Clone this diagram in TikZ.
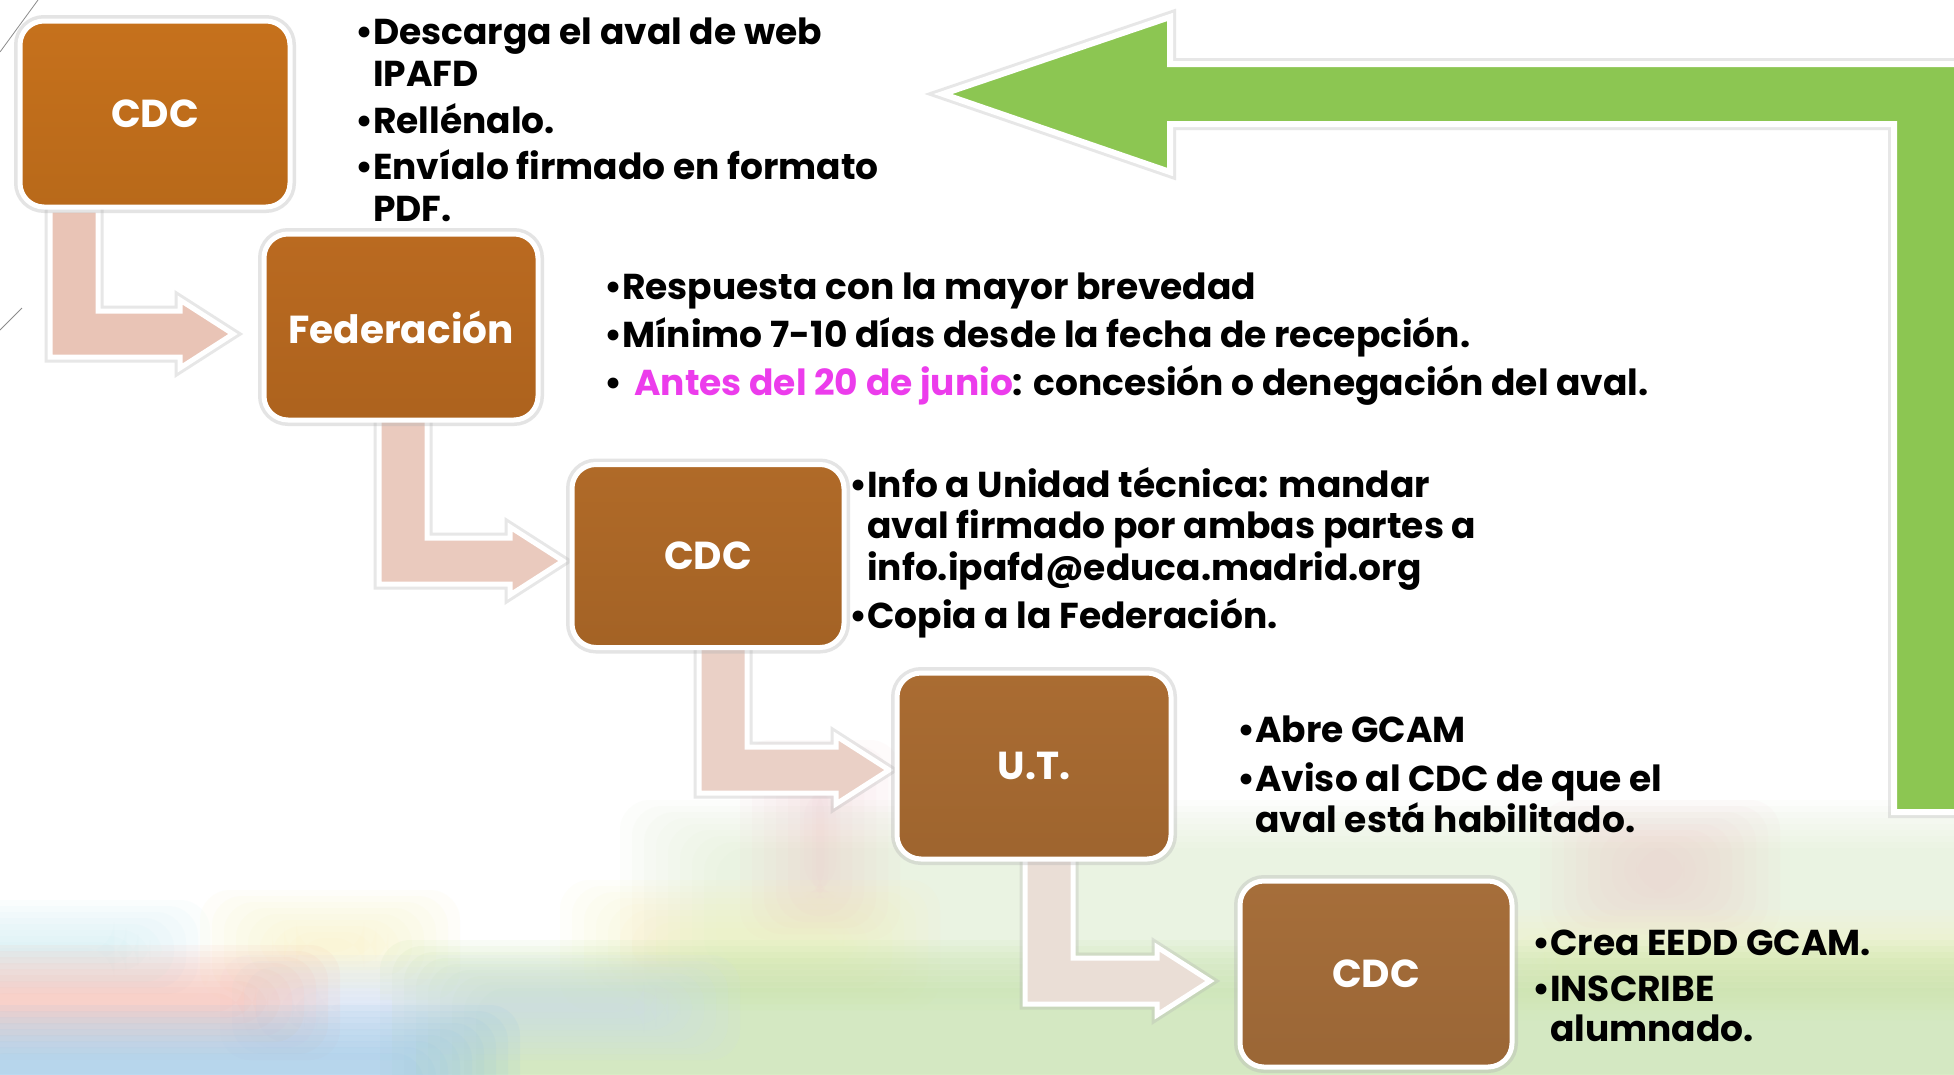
\documentclass[tikz,border=0pt]{standalone}
\usepackage{fontspec}
\setmainfont{Poppins}
\definecolor{boxA}{RGB}{198,113,28}
\definecolor{boxB}{RGB}{186,106,32}
\definecolor{boxC}{RGB}{176,106,40}
\definecolor{boxD}{RGB}{170,108,50}
\definecolor{boxE}{RGB}{166,110,58}
\definecolor{peach}{RGB}{233,196,182}
\definecolor{peachB}{RGB}{234,202,190}
\definecolor{peachC}{RGB}{234,208,198}
\definecolor{peachD}{RGB}{234,222,214}
\definecolor{leaf}{RGB}{140,198,82}
\definecolor{mag}{RGB}{236,60,236}
\definecolor{bgblue}{RGB}{150,196,230}
\definecolor{bgsalmon}{RGB}{248,180,168}
\definecolor{bglav}{RGB}{205,220,245}
\definecolor{bgcyan}{RGB}{195,236,242}
\definecolor{bgyel}{RGB}{250,242,185}
\definecolor{bggreen}{RGB}{190,224,160}
\definecolor{bgpale}{RGB}{222,238,205}
\definecolor{bgpink}{RGB}{240,195,200}
\newcommand\mybul{\makebox[18pt][l]{\textbullet}}
\newcommand\myind{\hspace*{18pt}}
\newcommand\elbowarrow[5]{%
  \path[elbow, fill=#5] (#1,#2) -- ({#1+48},#2) -- ({#1+48},{#3-23}) -- ({#4-53},{#3-23})
    -- ({#4-53},{#3-34}) -- (#4,#3) -- ({#4-53},{#3+34}) -- ({#4-53},{#3+23})
    -- (#1,{#3+23}) -- cycle;}
\newcommand\softblob[6]{%
  \foreach \k in {0,...,8}{
    \fill[#5, opacity=#6, rounded corners=30pt] ({#1+\k*12},{#2+\k*6}) rectangle ({#3-\k*12},{#4-\k*6});
  }}
\begin{document}
\begin{tikzpicture}[x=1pt,y=-1pt,
  box/.style={rectangle, rounded corners=24pt, draw=white, line width=5pt,
    minimum width=272, minimum height=186, text=white,
    font=\fontsize{39}{42}\selectfont\bfseries,
    preaction={draw=black!30, line width=12pt, opacity=0.35}},
  elbow/.style={draw=white, line width=5pt, line join=miter,
    preaction={draw=black!30, line width=11pt, opacity=0.3}},
  item/.style={anchor=base west, inner sep=0pt, align=left,
    font=\fontsize{36}{41.5}\selectfont\bfseries}]
\useasboundingbox (0,0) rectangle (1954,1074);
\clip (0,0) rectangle (1954,1074);
% faded photographic background
\fill[white] (0,0) rectangle (1954,1074);
\softblob{620}{800}{2080}{1010}{bgpale}{0.08}
\softblob{740}{740}{900}{940}{bgpink}{0.06}
\softblob{1540}{800}{1780}{940}{bgpink}{0.06}
\softblob{-120}{900}{210}{1000}{bgcyan}{0.08}
\softblob{200}{890}{460}{1000}{bgyel}{0.08}
\softblob{560}{880}{940}{1010}{bgyel}{0.07}
\softblob{1460}{910}{2080}{1020}{bgyel}{0.07}
\softblob{380}{940}{2080}{1160}{bggreen}{0.10}
\softblob{220}{955}{740}{1060}{bglav}{0.09}
\softblob{-120}{945}{340}{1060}{bgsalmon}{0.09}
\softblob{-120}{1005}{520}{1160}{bgblue}{0.11}
\draw[black!45, line width=0.8pt] (0,52) -- (38,0);
\draw[black!45, line width=0.8pt] (0,330) -- (22,308);
% green return arrow
\path[draw=black!30, line width=12pt, opacity=0.3, line join=miter]
  (943,94) -- (1170,17) -- (1170,64) -- (1970,64) -- (1970,812) -- (1894,812)
  -- (1894,124) -- (1170,124) -- (1170,172) -- cycle;
\path[fill=leaf, draw=white, line width=6pt, line join=miter]
  (943,94) -- (1170,17) -- (1170,64) -- (1970,64) -- (1970,812) -- (1894,812)
  -- (1894,124) -- (1170,124) -- (1170,172) -- cycle;
% elbow arrows
\elbowarrow{50}{210}{334}{233}{peach}
\elbowarrow{379}{416}{561}{563}{peachB}
\elbowarrow{699}{644}{770}{889}{peachC}
\elbowarrow{1025}{856}{981}{1210}{peachD}
% boxes
\node[box, top color=boxA, bottom color=boxA!93!black, minimum width=270] (b1) at (155,114) {CDC};
\node[box, top color=boxB, bottom color=boxB!93!black, minimum width=274] (b2) at (401,327) {Federación};
\node[box, top color=boxC, bottom color=boxC!93!black, minimum height=183] (b3) at (708,556) {CDC};
\node[box, top color=boxD, bottom color=boxD!93!black, minimum width=274] (b4) at (1034,766) {U.T.};
\node[box, top color=boxE, bottom color=boxE!93!black] (b5) at (1376,974) {CDC};
% texts (anchor = baseline of the last line)
\node[item] (t1a) at (355,86) {\mybul Descarga el aval de web\\\myind IPAFD};
\node[item] (t1b) at (355,133) {\mybul Rellénalo.};
\node[item] (t1c) at (355,221) {\mybul Envíalo firmado en formato\\\myind PDF.};
\node[item] (t2a) at (604,299) {\mybul Respuesta con la mayor brevedad};
\node[item] (t2b) at (604,347) {\mybul Mínimo 7-10 días desde la fecha de recepción.};
\node[item] (t2c) at (604,395) {\mybul\hspace*{12pt}{\color{mag}Antes del 20 de junio}: concesión o denegación del aval.};
\node[item] (t3a) at (849,580) {\mybul Info a Unidad técnica: mandar\\\myind aval firmado por ambas partes a\\\myind info.ipafd@educa.madrid.org};
\node[item] (t3b) at (849,628) {\mybul Copia a la Federación.};
\node[item, font=\fontsize{36}{41}\selectfont\bfseries] (t4a) at (1237,742) {\mybul Abre GCAM};
\node[item, font=\fontsize{36}{41}\selectfont\bfseries] (t4b) at (1237,832) {\mybul Aviso al CDC de que el\\\myind aval está habilitado.};
\node[item, font=\fontsize{36}{40}\selectfont\bfseries] (t5a) at (1532,955) {\mybul Crea EEDD GCAM.};
\node[item, font=\fontsize{36}{40}\selectfont\bfseries] (t5b) at (1532,1041) {\mybul INSCRIBE\\\myind alumnado.};
\end{tikzpicture}
\end{document}
